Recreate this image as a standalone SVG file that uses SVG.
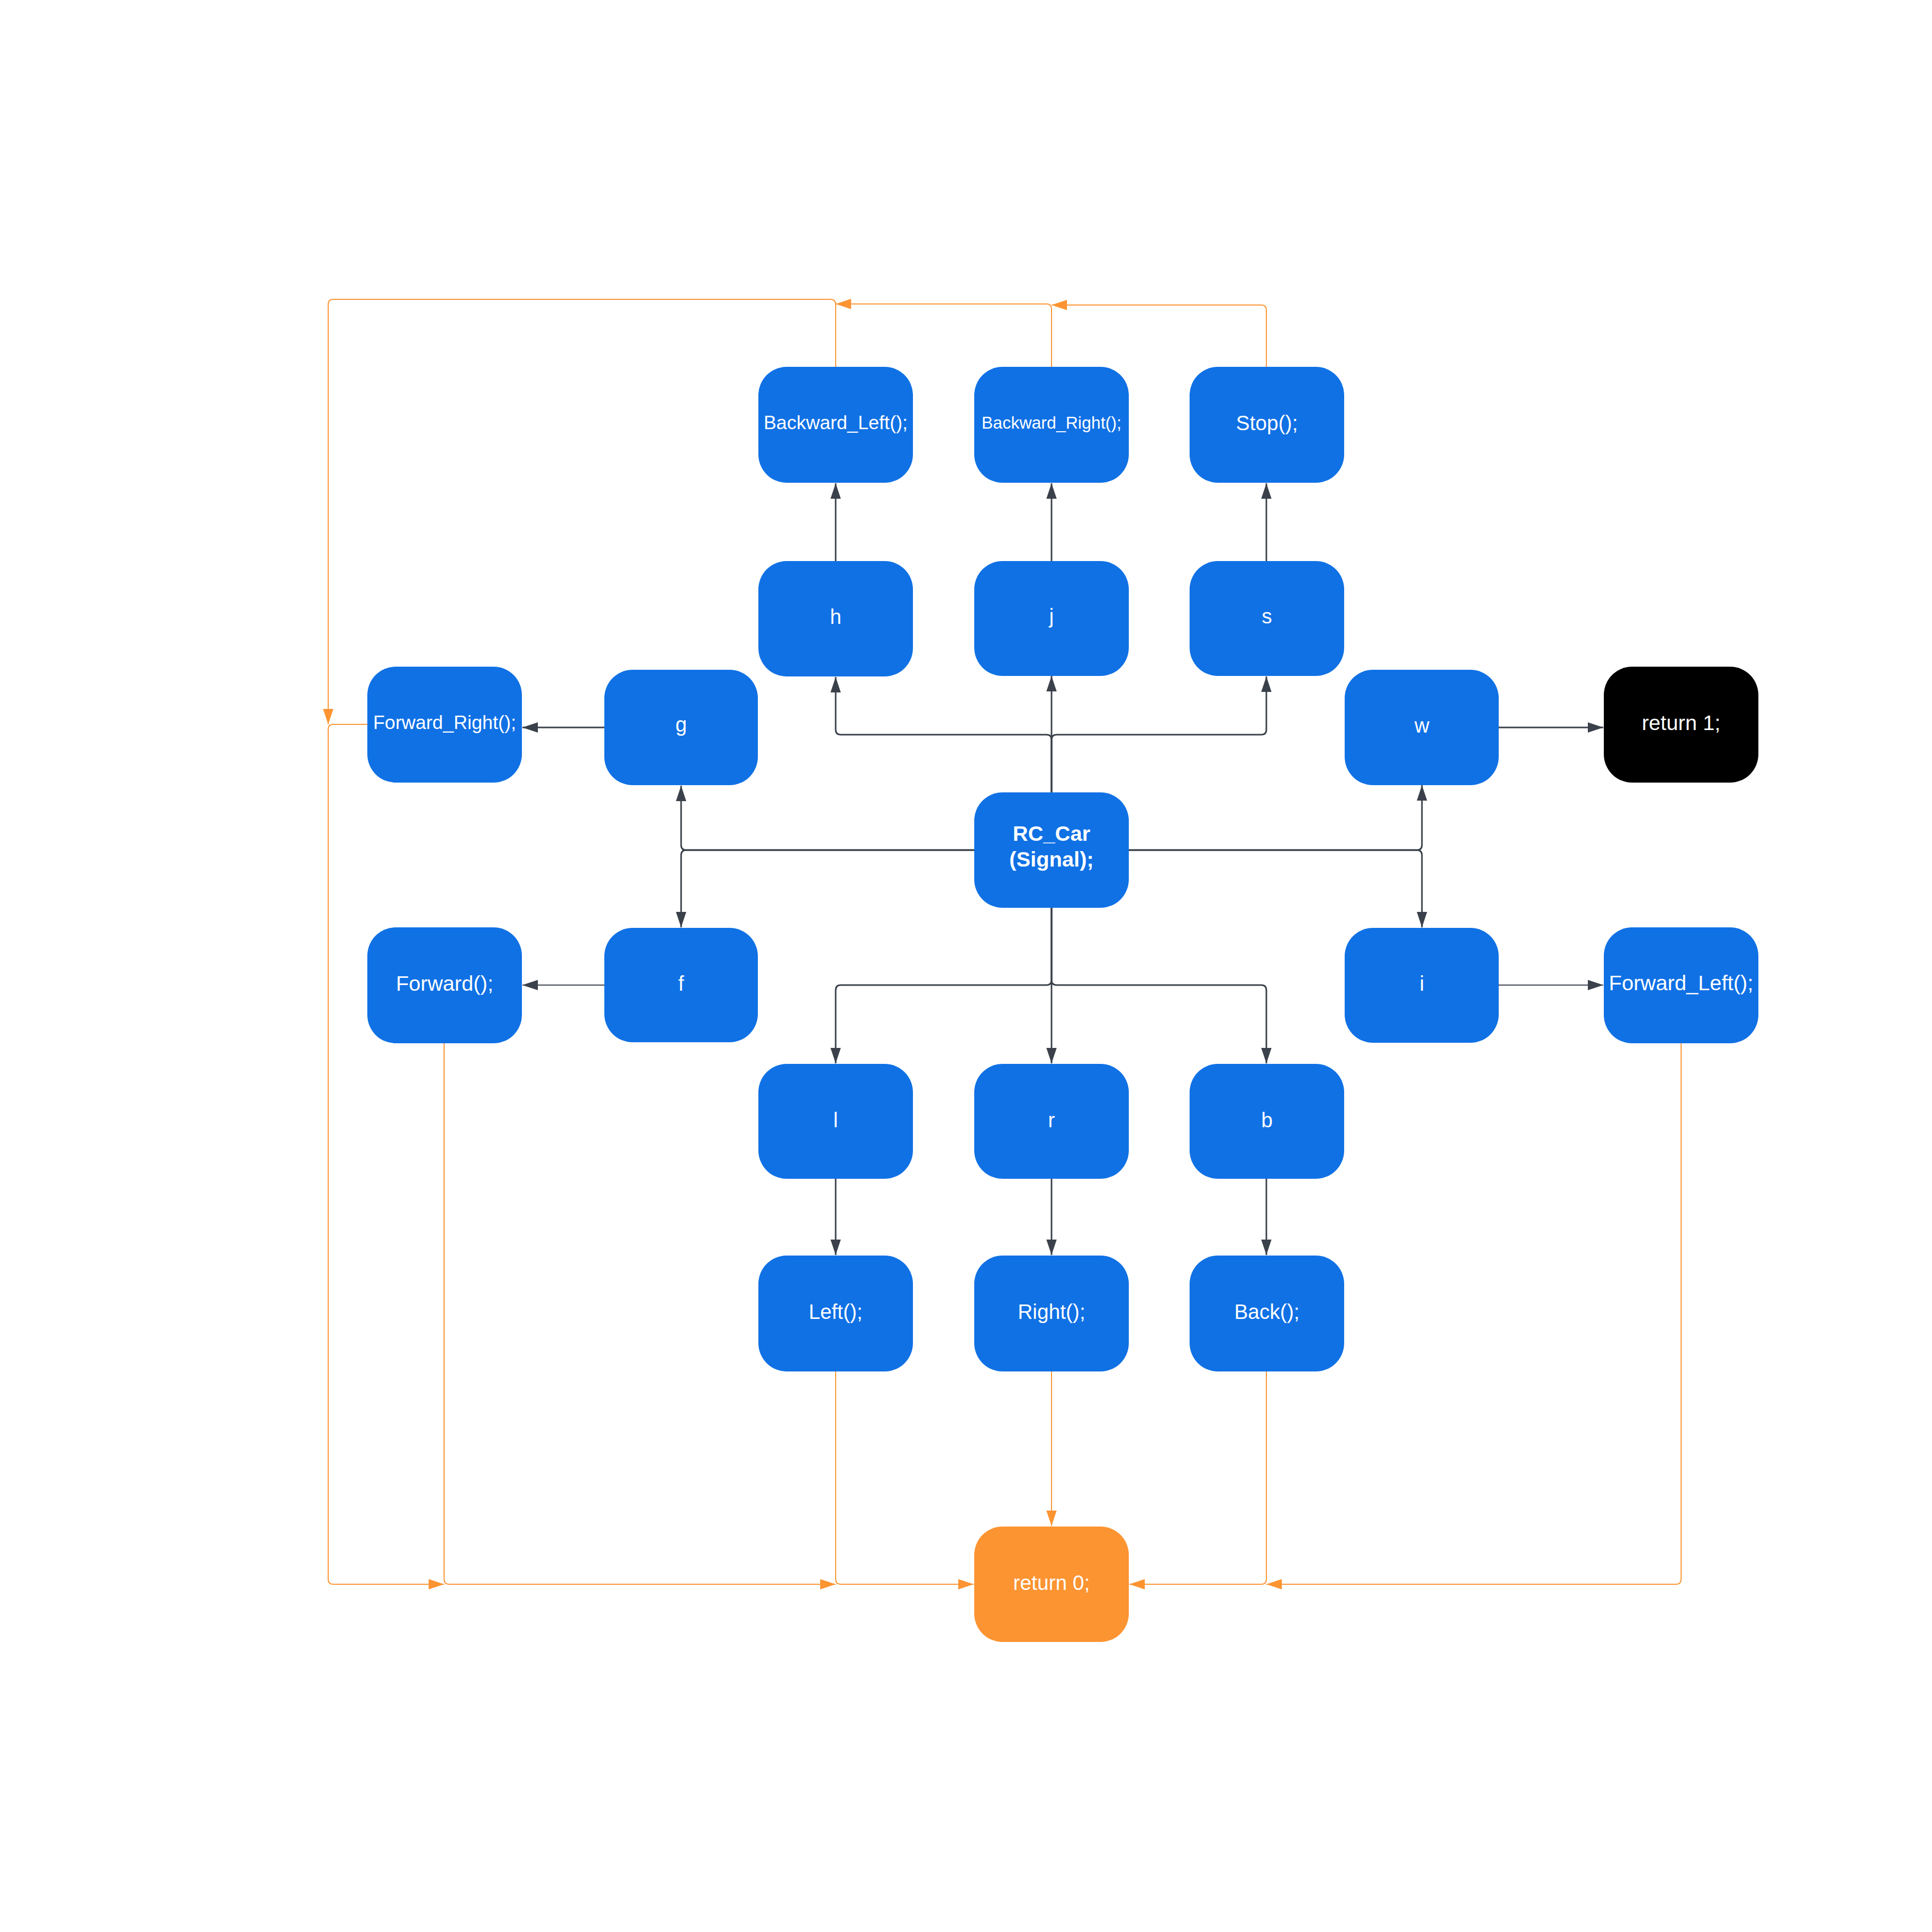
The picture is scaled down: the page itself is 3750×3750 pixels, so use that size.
<svg xmlns="http://www.w3.org/2000/svg" width="3750" height="3750" viewBox="0 0 3750 3750">
<style>
.n{fill:#1071E5}
.o{fill:#FC9432}
.k{fill:#000000}
text{font-family:"Liberation Sans",Arial,sans-serif;font-size:40px;fill:#FFFFFF;text-anchor:middle}
.b{font-weight:bold;font-size:41px}
.d{fill:none;stroke:#3A414A;stroke-width:3;marker-end:url(#ad)}
.dt{fill:none;stroke:#3A414A;stroke-width:2;marker-end:url(#ad)}
.or{fill:none;stroke:#FC9432;stroke-width:2;marker-end:url(#ao)}
</style>
<defs>
<marker id="ad" viewBox="0 0 30 20" markerWidth="30" markerHeight="20" refX="30" refY="10" orient="auto" markerUnits="userSpaceOnUse"><path d="M0,0 L30,10 L0,20 z" fill="#3A414A"/></marker>
<marker id="ao" viewBox="0 0 30 20" markerWidth="30" markerHeight="20" refX="30" refY="10" orient="auto" markerUnits="userSpaceOnUse"><path d="M0,0 L30,10 L0,20 z" fill="#FC9432"/></marker>
</defs>
<rect width="3750" height="3750" fill="#FFFFFF"/>
<g id="connectors">
<path class="d" d="M2041,1538 V1436 Q2041,1426 2031,1426 H1632 Q1622,1426 1622,1416 V1314"/>
<path class="d" d="M2041,1538 V1312"/>
<path class="d" d="M2041,1538 V1436 Q2041,1426 2051,1426 H2448 Q2458,1426 2458,1416 V1313"/>
<path class="d" d="M1891,1650 H1332 Q1322,1650 1322,1640 V1525"/>
<path class="d" d="M1891,1650 H1332 Q1322,1650 1322,1660 V1800"/>
<path class="d" d="M2191,1650 H2750 Q2760,1650 2760,1640 V1524"/>
<path class="d" d="M2191,1650 H2750 Q2760,1650 2760,1660 V1800"/>
<path class="d" d="M2041,1762 V1902 Q2041,1912 2031,1912 H1632 Q1622,1912 1622,1922 V2064"/>
<path class="d" d="M2041,1762 V2064"/>
<path class="d" d="M2041,1762 V1902 Q2041,1912 2051,1912 H2448 Q2458,1912 2458,1922 V2064"/>
<path class="d" d="M1622,1089 V938"/>
<path class="d" d="M2041,1089 V938"/>
<path class="d" d="M2458,1089 V938"/>
<path class="d" d="M1173,1412 H1014"/>
<path class="dt" d="M1173,1912 H1014"/>
<path class="d" d="M2909,1412 H3112"/>
<path class="dt" d="M2909,1912 H3112"/>
<path class="d" d="M1622,2288 V2436"/>
<path class="d" d="M2041,2288 V2436"/>
<path class="d" d="M2458,2288 V2436"/>
<path class="or" d="M2041,2662 V2962"/>
<path class="or" d="M2458,2662 V3065 Q2458,3075 2448,3075 H2192"/>
<path class="or" d="M3263,2025 V3065 Q3263,3075 3253,3075 H2458"/>
<path class="or" d="M1622,2662 V3065 Q1622,3075 1632,3075 H1890"/>
<path class="or" d="M862,2025 V3065 Q862,3075 872,3075 H1622"/>
<path class="or" d="M713,1406 H647 Q637,1406 637,1416 V3065 Q637,3075 647,3075 H862"/>
<path class="or" d="M1622,712 V591 Q1622,581 1612,581 H647 Q637,581 637,591 V1406"/>
<path class="or" d="M2041,712 V600 Q2041,590 2031,590 H1622"/>
<path class="or" d="M2458,712 V602 Q2458,592 2448,592 H2041"/>
</g>
<g id="backward_left"><rect class="n" x="1472" y="712" width="300" height="225" rx="55"/><text x="1622" y="833" style="font-size:37px">Backward_Left();</text></g>
<g id="backward_right"><rect class="n" x="1891" y="712" width="300" height="225" rx="55"/><text x="2041" y="832" style="font-size:33px">Backward_Right();</text></g>
<g id="stop"><rect class="n" x="2309" y="712" width="300" height="225" rx="55"/><text x="2459" y="835">Stop();</text></g>
<g id="h"><rect class="n" x="1472" y="1089" width="300" height="224" rx="55"/><text x="1622" y="1211">h</text></g>
<g id="j"><rect class="n" x="1891" y="1089" width="300" height="223" rx="55"/><text x="2041" y="1210">j</text></g>
<g id="s"><rect class="n" x="2309" y="1089" width="300" height="223" rx="55"/><text x="2459" y="1210">s</text></g>
<g id="forward_right"><rect class="n" x="713" y="1294" width="300" height="225" rx="55"/><text x="863" y="1415" style="font-size:37px">Forward_Right();</text></g>
<g id="g"><rect class="n" x="1173" y="1300" width="298" height="224" rx="55"/><text x="1322" y="1420">g</text></g>
<g id="w"><rect class="n" x="2610" y="1300" width="299" height="224" rx="55"/><text x="2760" y="1422">w</text></g>
<g id="return1"><rect class="k" x="3113" y="1294" width="300" height="225" rx="55"/><text x="3263" y="1417" style="font-size:41px">return 1;</text></g>
<g id="rc_car"><rect class="n" x="1891" y="1538" width="300" height="224" rx="55"/><text class="b" x="2041" y="1632">RC_Car</text><text class="b" x="2041" y="1682">(Signal);</text></g>
<g id="forward"><rect class="n" x="713" y="1800" width="300" height="225" rx="55"/><text x="863" y="1923" style="font-size:41px">Forward();</text></g>
<g id="f"><rect class="n" x="1173" y="1801" width="298" height="222" rx="55"/><text x="1322" y="1923">f</text></g>
<g id="i"><rect class="n" x="2610" y="1801" width="299" height="223" rx="55"/><text x="2760" y="1923">i</text></g>
<g id="forward_left"><rect class="n" x="3113" y="1800" width="300" height="225" rx="55"/><text x="3263" y="1922" style="font-size:41px">Forward_Left();</text></g>
<g id="l"><rect class="n" x="1472" y="2065" width="300" height="223" rx="55"/><text x="1622" y="2188">l</text></g>
<g id="r"><rect class="n" x="1891" y="2065" width="300" height="223" rx="55"/><text x="2041" y="2188">r</text></g>
<g id="b"><rect class="n" x="2309" y="2065" width="300" height="223" rx="55"/><text x="2459" y="2188">b</text></g>
<g id="left"><rect class="n" x="1472" y="2437" width="300" height="225" rx="55"/><text x="1622" y="2560">Left();</text></g>
<g id="right"><rect class="n" x="1891" y="2437" width="300" height="225" rx="55"/><text x="2041" y="2560">Right();</text></g>
<g id="back"><rect class="n" x="2309" y="2437" width="300" height="225" rx="55"/><text x="2459" y="2560">Back();</text></g>
<g id="return0"><rect class="o" x="1891" y="2963" width="300" height="224" rx="55"/><text x="2041" y="3086">return 0;</text></g>
</svg>
